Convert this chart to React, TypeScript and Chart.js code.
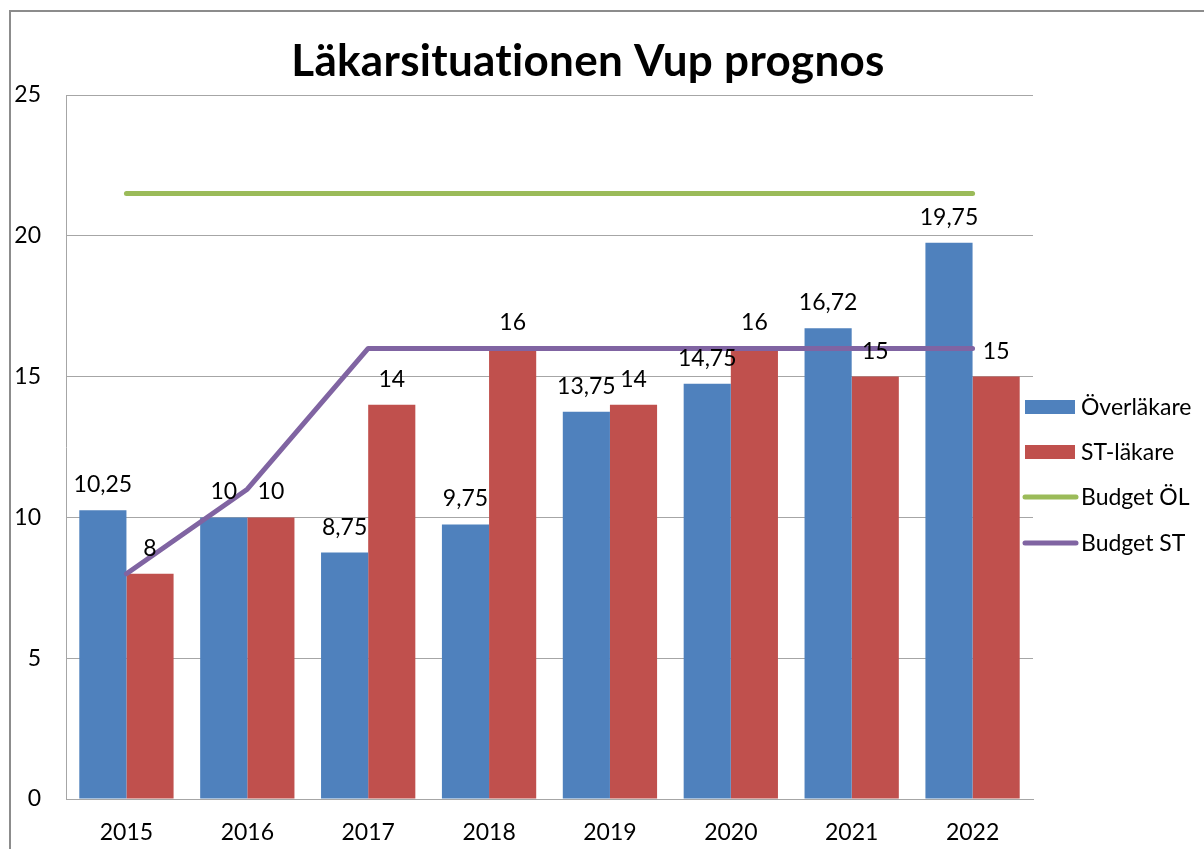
import React, { useEffect, useRef } from "react";
import { Chart, registerables } from "chart.js";

Chart.register(...registerables);

const categories = ["2015", "2016", "2017", "2018", "2019", "2020", "2021", "2022"];
const overlakare = [10.25, 10, 8.75, 9.75, 13.75, 14.75, 16.72, 19.75];
const stLakare = [8, 10, 14, 16, 14, 16, 15, 15];
const budgetOL = [21.5, 21.5, 21.5, 21.5, 21.5, 21.5, 21.5, 21.5];
const budgetST = [8, 11, 16, 16, 16, 16, 16, 16];
const yTicks = [0, 5, 10, 15, 20, 25];

const FONT = "Lato, 'Open Sans', sans-serif";

const fmt = (v: number) => String(v).replace(".", ",");

const framePlugin = {
  id: "frame",
  beforeDraw(chart: any) {
    const ctx = chart.ctx;
    ctx.save();
    ctx.fillStyle = "#ffffff";
    ctx.fillRect(0, 0, chart.width, chart.height);
    ctx.strokeStyle = "#8c8c8c";
    ctx.lineWidth = 2;
    ctx.beginPath();
    ctx.moveTo(10, chart.height);
    ctx.lineTo(10, 11);
    ctx.lineTo(chart.width, 11);
    ctx.stroke();
    ctx.restore();
  },
};

const titlePlugin = {
  id: "customTitle",
  afterDraw(chart: any) {
    const ctx = chart.ctx;
    ctx.save();
    ctx.fillStyle = "#000000";
    ctx.font = `bold 44px ${FONT}`;
    try {
      (ctx as any).letterSpacing = "0.3px";
    } catch (e) {}
    ctx.textAlign = "center";
    ctx.textBaseline = "alphabetic";
    ctx.fillText("Läkarsituationen Vup prognos", 588, 76);
    ctx.restore();
  },
};

const labelsPlugin = {
  id: "valueLabels",
  afterDatasetsDraw(chart: any) {
    const ctx = chart.ctx;
    ctx.save();
    ctx.fillStyle = "#000000";
    ctx.font = `23px ${FONT}`;
    ctx.textAlign = "center";
    ctx.textBaseline = "alphabetic";
    [0, 1].forEach((di) => {
      const meta = chart.getDatasetMeta(di);
      const data = chart.data.datasets[di].data as number[];
      meta.data.forEach((el: any, i: number) => {
        ctx.fillText(fmt(data[i]), el.x, el.y - 18);
      });
    });
    ctx.restore();
  },
};

const legendPlugin = {
  id: "customLegend",
  afterDraw(chart: any) {
    const ctx = chart.ctx;
    ctx.save();
    ctx.font = `23px ${FONT}`;
    ctx.textBaseline = "middle";
    ctx.textAlign = "left";
    const items = chart.data.datasets.map((d: any) => ({
      label: d.label,
      color: d.type === "line" ? d.borderColor : d.backgroundColor,
      isLine: d.type === "line",
    }));
    const ys = [407, 452, 497, 543];
    items.forEach((it: any, i: number) => {
      const y = ys[i];
      if (it.isLine) {
        ctx.strokeStyle = it.color;
        ctx.lineWidth = 5;
        ctx.lineCap = "round";
        ctx.beginPath();
        ctx.moveTo(1025, y);
        ctx.lineTo(1076, y);
        ctx.stroke();
      } else {
        ctx.fillStyle = it.color;
        ctx.fillRect(1025, y - 7, 50, 14);
      }
      ctx.fillStyle = "#000000";
      ctx.fillText(it.label, 1081, y + 1);
    });
    ctx.restore();
  },
};

export default function App() {
  const ref = useRef<HTMLCanvasElement | null>(null);
  useEffect(() => {
    document.body.style.margin = "0";
    if (!ref.current) return;
    const chart = new Chart(ref.current, {
      type: "bar",
      data: {
        labels: categories,
        datasets: [
          {
            type: "bar",
            label: "Överläkare",
            data: overlakare,
            backgroundColor: "#4F81BD",
            categoryPercentage: 0.78,
            barPercentage: 1,
            order: 2,
          },
          {
            type: "bar",
            label: "ST-läkare",
            data: stLakare,
            backgroundColor: "#C0504D",
            categoryPercentage: 0.78,
            barPercentage: 1,
            order: 2,
          },
          {
            type: "line",
            label: "Budget ÖL",
            data: budgetOL,
            borderColor: "#9BBB59",
            backgroundColor: "#9BBB59",
            borderWidth: 5,
            borderCapStyle: "round",
            pointRadius: 0,
            tension: 0,
            order: 1,
          } as any,
          {
            type: "line",
            label: "Budget ST",
            data: budgetST,
            borderColor: "#8064A2",
            backgroundColor: "#8064A2",
            borderWidth: 5,
            borderCapStyle: "round",
            borderJoinStyle: "round",
            pointRadius: 0,
            tension: 0,
            order: 0,
          } as any,
        ],
      },
      options: {
        responsive: false,
        animation: false,
        layout: { padding: { top: 95, right: 171, left: 0, bottom: 0 } },
        plugins: {
          legend: { display: false },
          title: { display: false },
          tooltip: { enabled: false },
        },
        scales: {
          x: {
            grid: { display: false, drawTicks: false },
            border: { display: true, color: "#a6a6a6", width: 1 },
            ticks: {
              color: "#000000",
              font: { family: FONT, size: 23 },
              padding: 20,
              maxRotation: 0,
            },
            afterFit: (s: any) => {
              s.height = 50;
            },
          },
          y: {
            min: 0,
            max: 25,
            afterBuildTicks: (s: any) => {
              s.ticks = yTicks.map((v) => ({ value: v }));
            },
            grid: { color: "#a6a6a6", lineWidth: 1, drawTicks: false },
            border: { display: true, color: "#a6a6a6", width: 1 },
            ticks: {
              color: "#000000",
              font: { family: FONT, size: 23 },
              padding: 25,
            },
            afterFit: (s: any) => {
              s.width = 66;
            },
          },
        },
      },
      plugins: [framePlugin, labelsPlugin, legendPlugin, titlePlugin],
    });
    return () => chart.destroy();
  }, []);
  return <canvas ref={ref} width={1204} height={849} style={{ display: "block" }} />;
}
